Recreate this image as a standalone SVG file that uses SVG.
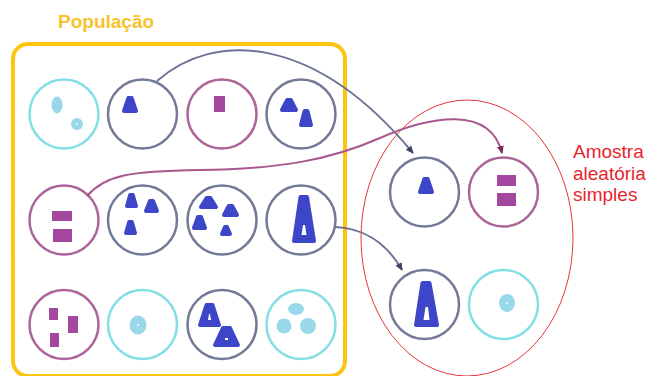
<svg xmlns="http://www.w3.org/2000/svg" width="650" height="376" viewBox="0 0 650 376">
  <defs>
    <style>
      .ring { fill: #ffffff; stroke-width: 2.5; }
      .cyan { stroke: #82dfe4; }
      .navy { stroke: #737a96; }
      .mauve { stroke: #ad6496; }
      .tri { fill: #3d45c9; stroke: #3d45c9; stroke-width: 4; stroke-linejoin: round; }
      .hole { fill: #ffffff; }
      .bar { fill: #a3479f; }
      .dot { fill: #98d8e8; }
      .link { fill: none; stroke-width: 2; }
      .lbl { font-family: "Liberation Sans", Arial, sans-serif; }
    </style>
    <marker id="ahNavy" markerWidth="8" markerHeight="8" refX="7" refY="4" orient="auto" markerUnits="userSpaceOnUse">
      <path d="M0,0.5 L8,4 L0,7.5 Z" fill="#3b4262"/>
    </marker>
    <marker id="ahMauve" markerWidth="8" markerHeight="8" refX="7" refY="4" orient="auto" markerUnits="userSpaceOnUse">
      <path d="M0,0.5 L8,4 L0,7.5 Z" fill="#7a2a60"/>
    </marker>
  </defs>

  <rect width="650" height="376" fill="#ffffff"/>

  <!-- population frame -->
  <g id="populacao">
    <rect x="13" y="44" width="332" height="332" rx="15" ry="15" fill="none" stroke="#fdc512" stroke-width="4"/>
    <text class="lbl" x="58" y="28" font-size="19" font-weight="bold" fill="#f8c22b">População</text>
  </g>

  <!-- sample ellipse -->
  <g id="amostra">
    <ellipse cx="467" cy="238" rx="106" ry="138" fill="none" stroke="#e8343c" stroke-width="1"/>
    <text class="lbl" font-size="19" fill="#e8242e">
      <tspan x="573" y="158">Amostra</tspan>
      <tspan x="573" y="180">aleatória</tspan>
      <tspan x="573" y="201">simples</tspan>
    </text>
  </g>

  <!-- row 1 -->
  <g id="p1">
    <circle class="ring cyan" cx="64" cy="114" r="34.5"/>
    <ellipse class="dot" cx="57" cy="105" rx="5.5" ry="8.5"/>
    <circle class="dot" cx="77" cy="124" r="6"/>
    <circle class="hole" cx="77" cy="124" r="1"/>
  </g>
  <g id="p2">
    <circle class="ring navy" cx="142.5" cy="114" r="34.5"/>
    <polygon class="tri" points="124,111 128.4,98 131.6,98 136,111"/>
  </g>
  <g id="p3">
    <circle class="ring mauve" cx="222" cy="114" r="34.5"/>
    <rect class="bar" x="214" y="96" width="11" height="16"/>
  </g>
  <g id="p4">
    <circle class="ring navy" cx="301" cy="114" r="34.5"/>
    <polygon class="tri" points="282,110 287.2,100 290.8,100 296,110"/>
    <polygon class="tri" points="301,125 304.6,111 307.4,111 311,125"/>
  </g>

  <!-- row 2 -->
  <g id="p5">
    <circle class="ring mauve" cx="64" cy="220" r="34.5"/>
    <rect class="bar" x="52" y="211" width="20" height="10"/>
    <rect class="bar" x="53" y="229" width="19" height="13"/>
  </g>
  <g id="p6">
    <circle class="ring navy" cx="142.5" cy="220" r="34.5"/>
    <polygon class="tri" points="127,206 130.2,195 132.8,195 136,206"/>
    <polygon class="tri" points="146,211 150,201 153,201 157,211"/>
    <polygon class="tri" points="126,233 129.2,222 131.8,222 135,233"/>
  </g>
  <g id="p7">
    <circle class="ring navy" cx="222" cy="220" r="34.5"/>
    <polygon class="tri" points="201,207 206.6,198 210.4,198 216,207"/>
    <polygon class="tri" points="224,215 228.8,206 232.2,206 237,215"/>
    <polygon class="tri" points="194,228 198,217 201,217 205,228"/>
    <polygon class="tri" points="222,234 225,227 227,227 230,234"/>
  </g>
  <g id="p8">
    <circle class="ring navy" cx="301" cy="220" r="34.5"/>
    <polygon class="tri" points="294,241 300.5,197 307,197 314,241"/>
    <polygon class="hole" points="301.5,235 303,225 305,225 306.5,235"/>
  </g>

  <!-- row 3 -->
  <g id="p9">
    <circle class="ring mauve" cx="64" cy="324.5" r="34.5"/>
    <rect class="bar" x="49" y="308" width="9" height="12"/>
    <rect class="bar" x="68" y="316" width="10" height="17"/>
    <rect class="bar" x="50" y="333" width="9" height="14"/>
  </g>
  <g id="p10">
    <circle class="ring cyan" cx="142.5" cy="324.5" r="34.5"/>
    <ellipse class="dot" cx="138" cy="325" rx="8.5" ry="9.5"/>
    <circle class="hole" cx="138" cy="325" r="1"/>
  </g>
  <g id="p11">
    <circle class="ring navy" cx="222" cy="324.5" r="34.5"/>
    <polygon class="tri" points="200,325 206.5,305 212.5,305 219,325"/>
    <polygon class="hole" points="208,320 209,314 210,314 211,320"/>
    <polygon class="tri" points="215,345 223,328 230,328 238,345"/>
    <rect class="hole" x="225" y="338" width="3" height="2"/>
  </g>
  <g id="p12">
    <circle class="ring cyan" cx="301" cy="324.5" r="34.5"/>
    <ellipse class="dot" cx="296" cy="309" rx="8" ry="6"/>
    <circle class="dot" cx="284" cy="326" r="7.5"/>
    <circle class="dot" cx="308" cy="326" r="8"/>
  </g>

  <!-- sample members -->
  <g id="s1">
    <circle class="ring navy" cx="424.5" cy="192" r="34.5"/>
    <polygon class="tri" points="420,192 424.4,179 427.6,179 432,192"/>
  </g>
  <g id="s2">
    <circle class="ring mauve" cx="503.5" cy="192" r="34.5"/>
    <rect class="bar" x="497" y="175" width="19" height="11"/>
    <rect class="bar" x="497" y="193" width="19" height="13"/>
  </g>
  <g id="s3">
    <circle class="ring navy" cx="424.5" cy="304.5" r="34.5"/>
    <polygon class="tri" points="416,325 422.5,283 429.5,283 437,325"/>
    <polygon class="hole" points="423.5,320 425.5,307 428,307 429.5,320"/>
  </g>
  <g id="s4">
    <circle class="ring cyan" cx="503.5" cy="304.5" r="34.5"/>
    <ellipse class="dot" cx="507" cy="303" rx="8" ry="9"/>
    <circle class="hole" cx="507" cy="303" r="1"/>
  </g>

  <!-- selection arrows -->
  <g id="connectors">
    <path class="link" stroke="#6d7493" d="M157,81 C215,30 315,35 413,153" marker-end="url(#ahNavy)"/>
    <path class="link" stroke="#a8588f" d="M87,196 C105,175 130,171 200,170 C280,169 330,160 380,138 C430,116 490,105 502,153" marker-end="url(#ahMauve)"/>
    <path class="link" stroke="#6d7493" d="M335,227 C360,228 385,240 402,270" marker-end="url(#ahNavy)"/>
  </g>
</svg>
